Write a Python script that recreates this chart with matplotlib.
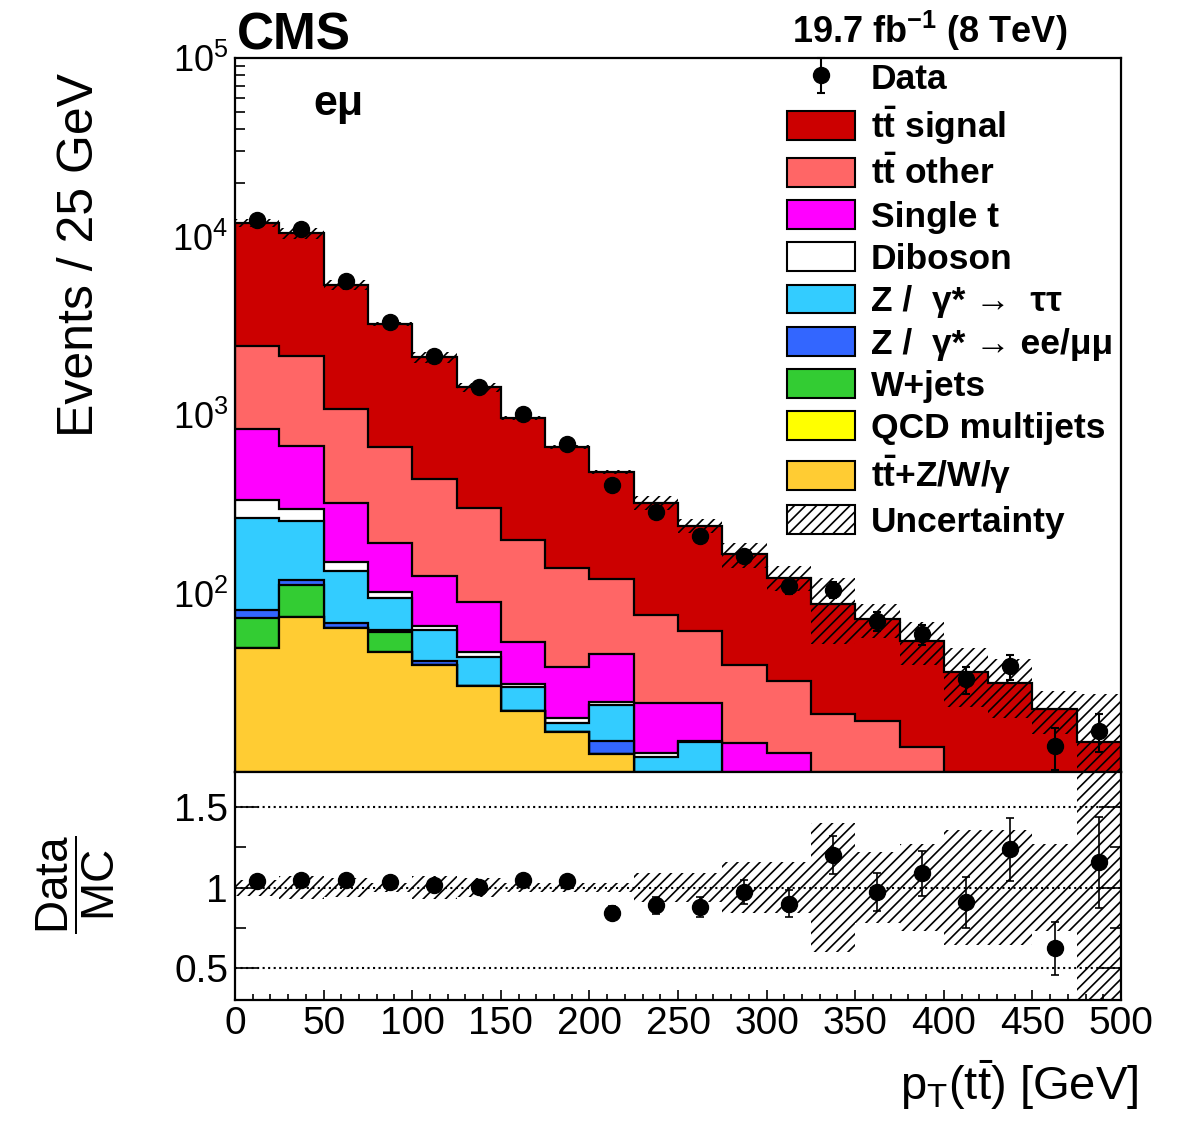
import numpy as np
import matplotlib
matplotlib.use('Agg')
from matplotlib import pyplot as plt
from matplotlib.patches import Patch
from matplotlib.ticker import MultipleLocator, FixedLocator, NullFormatter

plt.rcParams['font.family'] = ['Liberation Sans', 'DejaVu Sans']
plt.rcParams['mathtext.fontset'] = 'custom'
plt.rcParams['mathtext.rm'] = 'Liberation Sans'
plt.rcParams['mathtext.sf'] = 'Liberation Sans'
plt.rcParams['mathtext.it'] = 'Liberation Sans:italic'
plt.rcParams['mathtext.bf'] = 'Liberation Sans:bold'
plt.rcParams['hatch.linewidth'] = 1.2

# binning: 20 bins of 25 GeV
edges = np.arange(0, 525, 25)

# MC components per bin (events / 25 GeV), bottom of stack first
ttV = [49.5, 73.8, 64.1, 47.0, 39.8, 30.3, 22.0, 16.8, 12.6, 6.0,
       5.0, 3.0, 2.5, 2.0, 1.5, 1.2, 1.0, 0.8, 0.6, 0.5]
qcd = [0, 0, 0, 0, 0, 0, 0, 0, 0, 0,
       0, 0, 0, 0, 0, 0, 0, 0, 0, 0]
wjets = [23.4, 37.8, 0, 13.8, 0, 0, 0, 0, 0, 0,
         0, 0, 0, 0, 0, 0, 0, 0, 0, 0]
zll = [7.9, 7.4, 4.2, 1.6, 2.1, 0, 0, 0, 2.3, 0.5,
       0.3, 0, 0, 0, 0, 0, 0, 0, 0, 0]
ztautau = [184, 135.8, 65.4, 32.0, 20.5, 13.8, 7.9, 2.05, 8.8, 5.6,
           9.4, 2.5, 2.0, 1.0, 1.0, 0.8, 0.6, 0.5, 0.4, 0.3]
diboson = [69, 42.6, 16.5, 7.6, 3.4, 2.9, 1.2, 1.3, 1.0, 0.7,
           0.3, 0.3, 0.3, 0.2, 0.2, 0.2, 0.1, 0.1, 0.1, 0.1]
singlet = [501, 373, 171, 89.8, 59.5, 42.6, 22.4, 18.7, 21.1, 11.6,
           9.3, 8.7, 8.0, 3.0, 2.5, 2.3, 2.0, 1.5, 1.2, 1.0]
ttother = [1601, 1470, 759, 470, 313, 211, 146, 100, 74.8, 51.4,
           37.3, 25.3, 19.6, 14.9, 14.1, 9.3, 4.3, 4.0, 3.5, 3.0]
ttsignal = [9464, 8320, 4269, 2573, 1675, 1134, 763, 523, 359, 245.6,
            177, 126.6, 89.8, 66.2, 52.7, 40.4, 28.3, 24.6, 16.7, 9.8]

data = [12370, 10980, 5600, 3340, 2150, 1440, 1010, 688, 405, 286,
        210, 162, 110, 105, 70, 59, 33, 39, 14, 17]

# relative MC uncertainty per bin
mc_unc = [0.05, 0.07, 0.06, 0.03, 0.07, 0.06, 0.03, 0.03, 0.03, 0.09,
          0.09, 0.16, 0.16, 0.40, 0.22, 0.27, 0.36, 0.36, 0.27, 0.85]

components = [ttV, qcd, wjets, zll, ztautau, diboson, singlet, ttother, ttsignal]
colors = ['#ffcc33', '#ffff00', '#33cc33', '#3366ff', '#33ccff', '#ffffff',
          '#ff00ff', '#ff6666', '#cc0000']
labels = [r'$\mathbf{t\bar{t}}$+Z/W/γ', 'QCD multijets', 'W+jets',
          'Z /  γ* → ee/μμ', 'Z /  γ* →  ττ', 'Diboson', 'Single t',
          r'$\mathbf{t\bar{t}}$ other', r'$\mathbf{t\bar{t}}$ signal']

stack = np.cumsum(np.array(components, dtype=float), axis=0)
total = stack[-1]
data = np.array(data, dtype=float)
mc_unc = np.array(mc_unc)
centers = 0.5 * (edges[1:] + edges[:-1])

fig = plt.figure(figsize=(11.82, 11.38), dpi=100)
ax = fig.add_axes([235/1182, 1-772/1138, 886/1182, 714/1138])
axr = fig.add_axes([235/1182, 1-1000/1138, 886/1182, 228/1138])

# stacked histograms, drawn top first so lower ones sit on top
for i in range(len(components)-1, -1, -1):
    ax.stairs(stack[i], edges, baseline=1., fill=True, facecolor=colors[i],
              edgecolor='k', linewidth=1.6, zorder=2+(len(components)-i)*0.01)
ax.stairs(total*(1+mc_unc), edges, baseline=total*(1-mc_unc), fill=True,
          facecolor='none', edgecolor='k', linewidth=0, hatch='///', zorder=3)
eb = ax.errorbar(centers, data, yerr=np.sqrt(data), fmt='o', color='k',
                 ms=11.5, capsize=3, elinewidth=1.5, capthick=1.5, zorder=4)

ax.set_yscale('log')
ax.set_xlim(0, 500)
ax.set_ylim(10, 1e5)
ax.yaxis.set_major_locator(FixedLocator([1e2, 1e3, 1e4, 1e5]))
ax.set_yticklabels([r'$10^{2}$', r'$10^{3}$', r'$10^{4}$', r'$10^{5}$'])
ax.yaxis.set_minor_locator(FixedLocator([m*10.**e for e in range(1, 5) for m in range(2, 10)]))
ax.yaxis.set_minor_formatter(NullFormatter())
ax.xaxis.set_major_locator(MultipleLocator(50))
ax.xaxis.set_minor_locator(MultipleLocator(10))
ax.tick_params(axis='x', which='both', labelbottom=False, direction='in', top=False)
ax.tick_params(axis='x', which='major', length=17, width=1.2)
ax.tick_params(axis='x', which='minor', length=8, width=1.2)
ax.tick_params(axis='y', which='both', direction='in', right=False)
ax.tick_params(axis='y', which='major', length=16, width=1.2, labelsize=26, pad=5)
ax.tick_params(axis='y', which='minor', length=7, width=1.2)
for s in ax.spines.values():
    s.set_linewidth(1.6)

# legend
handles = [eb]
leg_labels = ['Data']
for i in range(len(components)-1, -1, -1):
    handles.append(Patch(facecolor=colors[i], edgecolor='k', linewidth=1.5))
    leg_labels.append(labels[i])
handles.append(Patch(facecolor='white', edgecolor='k', hatch='///', linewidth=1.5))
leg_labels.append('Uncertainty')
ax.legend(handles, leg_labels, loc='upper left', bbox_to_anchor=(787/1182, 1-62/1138),
          bbox_transform=fig.transFigure, frameon=False, handlelength=1.92,
          handleheight=0.87, handletextpad=0.45, labelspacing=0.245, borderpad=0,
          borderaxespad=0, prop={'weight': 'bold', 'size': 25.5})

# ratio panel
ratio = data / total
axr.stairs(1+mc_unc, edges, baseline=1-mc_unc, fill=True, facecolor='none',
           edgecolor='k', linewidth=0, hatch='///', zorder=2)
for yl in [0.5, 1.0, 1.5]:
    axr.axhline(yl, color='k', ls=':', lw=1.5, zorder=1)
axr.errorbar(centers, ratio, yerr=np.sqrt(data)/total, fmt='o', color='k',
             ms=11.5, capsize=3, elinewidth=1.2, capthick=1.2, zorder=4)
axr.set_xlim(0, 500)
axr.set_ylim(0.3, 1.72)
axr.yaxis.set_major_locator(FixedLocator([0.5, 1.0, 1.5]))
axr.set_yticklabels(['0.5', '1', '1.5'])
axr.yaxis.set_minor_locator(FixedLocator([0.75, 1.25]))
axr.xaxis.set_major_locator(MultipleLocator(50))
axr.xaxis.set_minor_locator(MultipleLocator(10))
axr.tick_params(axis='x', which='both', direction='in', top=False)
axr.tick_params(axis='x', which='major', length=7, width=1.2, labelsize=28, pad=4)
axr.tick_params(axis='x', which='minor', length=4, width=1.2)
axr.tick_params(axis='y', which='both', direction='in', right=True)
axr.tick_params(axis='y', which='major', length=16, width=1.2, labelsize=28, pad=5)
axr.tick_params(axis='y', which='minor', length=8, width=1.2)
for s in axr.spines.values():
    s.set_linewidth(1.6)

# texts
fig.text(237/1182, 1-50/1138, 'CMS', fontsize=37, fontweight='bold', ha='left', va='baseline')
fig.text(1067/1182, 1-43/1138, r'19.7 fb$^{\mathbf{-1}}$ (8 TeV)', fontsize=26,
         fontweight='bold', ha='right', va='baseline')
fig.text(313/1182, 1-115/1138, 'eμ', fontsize=31, fontweight='bold', ha='left', va='baseline')
fig.text(80/1182, 1-255/1138, 'Events / 25 GeV', fontsize=36, rotation=90, ha='center', va='center')
fig.text(76/1182, 1-885/1138, r'$\dfrac{\mathrm{Data}}{\mathrm{MC}}$', fontsize=33,
         rotation=90, ha='center', va='center')
fig.text(1138/1182, 1-1100/1138, r'p$_\mathrm{T}$(t$\bar{\mathrm{t}}$) [GeV]', fontsize=34,
         ha='right', va='baseline')

fig.savefig('out.png', dpi=100)
plt.close(fig)
